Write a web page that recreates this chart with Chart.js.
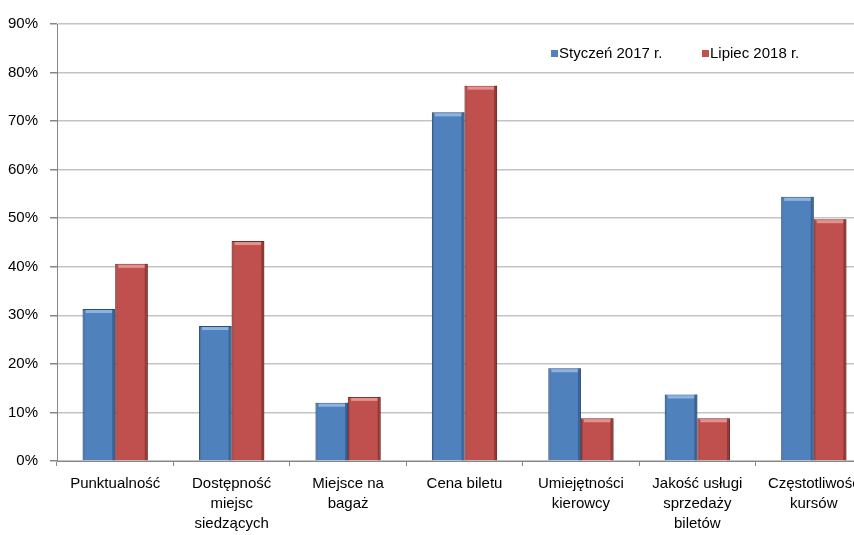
<!DOCTYPE html>
<html>
<head>
<meta charset="utf-8">
<script src="https://cdn.jsdelivr.net/npm/chart.js@4"></script>
<style>
  html, body { margin: 0; padding: 0; background: #fff; overflow: hidden; }
  #wrap { width: 854px; height: 535px; overflow: hidden; }
  #box { width: 872px; height: 535px; }
</style>
</head>
<body>
<div id="wrap"><div id="box"><canvas id="chart"></canvas></div></div>
<script>
// ===== Data =====
const categories = [
  "Punktualność",
  ["Dostępność", "miejsc", "siedzących"],
  ["Miejsce na", "bagaż"],
  "Cena biletu",
  ["Umiejętności", "kierowcy"],
  ["Jakość usługi", "sprzedaży", "biletów"],
  ["Częstotliwość", "kursów"],
];
const seriesNames = ["Styczeń 2017 r.", "Lipiec 2018 r."];
const jan2017 = [31.3, 27.8, 12.0, 71.8, 19.1, 13.7, 54.4];
const jul2018 = [40.6, 45.3, 13.2, 77.3, 8.8, 8.8, 49.8];
const yTicks = [0, 10, 20, 30, 40, 50, 60, 70, 80, 90];

const FONT = "'Liberation Sans Narrow', 'Liberation Sans', Arial, sans-serif";
const shades = [
  { light: "#8DB3E2", dark: "#264A78" },
  { light: "#E6908E", dark: "#6E2524" },
];

// ===== Bevel look on the bars (Excel style) =====
const bevel = {
  id: "bevel",
  afterDatasetsDraw(chart) {
    const ctx = chart.ctx;
    chart.data.datasets.forEach((ds, di) => {
      chart.getDatasetMeta(di).data.forEach((bar) => {
        const left = bar.x - bar.width / 2;
        const right = bar.x + bar.width / 2;
        const h = bar.base - bar.y;
        ctx.save();
        // top cap
        ctx.fillStyle = shades[di].light;
        ctx.fillRect(left + 3, bar.y + 1, bar.width - 6, Math.min(3, h));
        // right shadow edge
        ctx.fillStyle = shades[di].dark;
        ctx.globalAlpha = 0.55;
        ctx.fillRect(right - 3, bar.y, 3, h);
        ctx.globalAlpha = 0.25;
        ctx.fillRect(left, bar.y, 2, h);
        ctx.restore();
      });
    });
  },
};

// ===== Legend drawn inside the plot =====
const insideLegend = {
  id: "insideLegend",
  afterDraw(chart) {
    const ctx = chart.ctx;
    const items = [
      { x: 551, color: "#4F81BD", text: seriesNames[0] },
      { x: 702, color: "#C0504D", text: seriesNames[1] },
    ];
    ctx.save();
    ctx.font = "15px " + FONT;
    ctx.textBaseline = "middle";
    items.forEach((it) => {
      ctx.fillStyle = it.color;
      ctx.fillRect(it.x, 50, 7, 7);
      ctx.fillStyle = "#000";
      ctx.fillText(it.text, it.x + 8, 54);
    });
    ctx.restore();
  },
};

new Chart(document.getElementById("chart"), {
  type: "bar",
  data: {
    labels: categories,
    datasets: [
      {
        label: seriesNames[0],
        data: jan2017,
        backgroundColor: "#4F81BD",
        borderColor: "#2C4D75",
        borderWidth: 1,
        categoryPercentage: 0.56,
        barPercentage: 1.0,
      },
      {
        label: seriesNames[1],
        data: jul2018,
        backgroundColor: "#C0504D",
        borderColor: "#772C2A",
        borderWidth: 1,
        categoryPercentage: 0.56,
        barPercentage: 1.0,
      },
    ],
  },
  options: {
    responsive: true,
    maintainAspectRatio: false,
    animation: false,
    layout: { padding: { top: 24, right: 0, left: 0, bottom: 0 } },
    plugins: {
      legend: { display: false },
      tooltip: { enabled: false },
    },
    scales: {
      x: {
        offset: true,
        grid: {
          offset: true,
          drawOnChartArea: false,
          drawTicks: true,
          tickLength: 5,
          color: "#868686",
        },
        border: { color: "#868686" },
        ticks: {
          color: "#000",
          font: { family: FONT, size: 15, lineHeight: 1.33 },
          maxRotation: 0,
          autoSkip: false,
          padding: 8,
        },
        afterFit: (s) => { s.height = 74; },
      },
      y: {
        min: 0,
        max: 90,
        afterBuildTicks: (s) => { s.ticks = yTicks.map((v) => ({ value: v })); },
        grid: {
          color: "#C4C4C4",
          lineWidth: 1.5,
          tickLength: 7,
          tickColor: "#868686",
        },
        border: { color: "#868686" },
        ticks: {
          color: "#000",
          font: { family: FONT, size: 15 },
          padding: 12,
          callback: (v) => v + "%",
        },
        afterFit: (s) => { s.width = 57; },
      },
    },
  },
  plugins: [bevel, insideLegend],
});
</script>
</body>
</html>
